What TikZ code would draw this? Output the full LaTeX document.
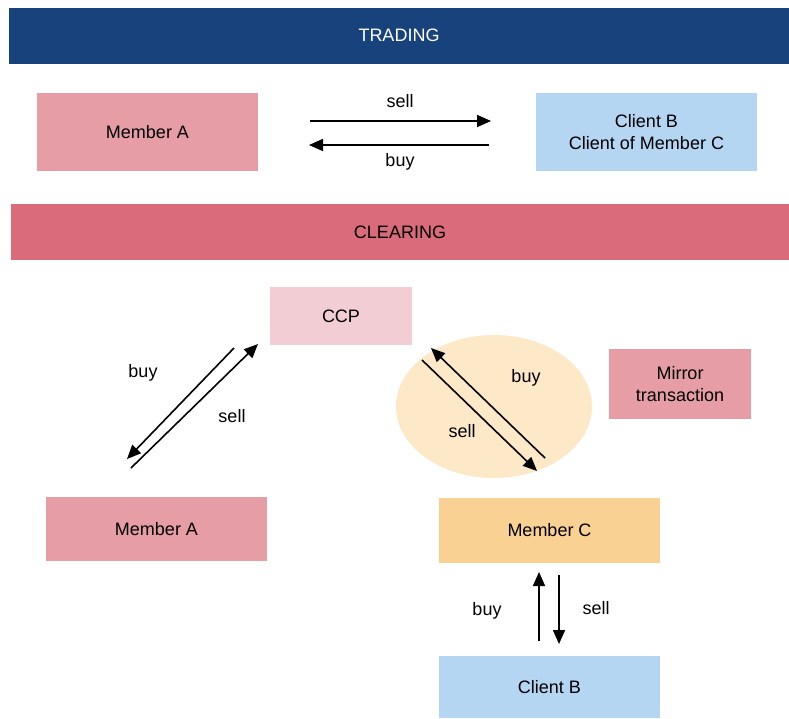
\documentclass[tikz,border=0pt]{standalone}
\usepackage{fontspec}
\setmainfont{Liberation Sans}
\usetikzlibrary{arrows.meta,shapes.geometric}
\definecolor{navy}{HTML}{17427C}
\definecolor{clearred}{HTML}{D96B7A}
\definecolor{memberpink}{HTML}{E69DA6}
\definecolor{ccppink}{HTML}{F2CDD3}
\definecolor{clientblue}{HTML}{B5D6F2}
\definecolor{memberorange}{HTML}{F9D193}
\definecolor{mirrorfill}{HTML}{FDE8C8}
\tikzset{
  every picture/.style={
    font=\fontsize{18}{22}\selectfont,
    line join=round,
  },
  flow/.style={-{Triangle[length=14pt,width=12pt]},line width=1.6pt},
  box/.style={inner sep=0pt,align=center,minimum width=221pt},
  bar/.style={inner sep=0pt,minimum height=56pt},
}
\begin{document}
\begin{tikzpicture}[x=1pt,y=-1pt]
\useasboundingbox (0,0) rectangle (789,718);
% trading
\node[bar,fill=navy,text=white,minimum width=780pt] (trading) at (399,35.5) {TRADING};
\node[box,fill=memberpink,minimum height=78pt] (topA) at (147.5,132) {Member A};
\node[box,fill=clientblue,minimum height=78pt] (topB) at (646.5,132) {Client B\\Client of Member C};
\coordinate (s1) at (310,121); \coordinate (s2) at (491,121);
\coordinate (b1) at (489,145); \coordinate (b2) at (309,145);
\draw[flow] (s1)--(s2);
\draw[flow] (b1)--(b2);
\node (tsell) at (400,101) {sell};
\node (tbuy) at (400,162) {buy};
% clearing
\node[bar,fill=clearred,minimum width=778pt] (clearing) at (400,232) {CLEARING};
\node[inner sep=0pt,fill=ccppink,minimum width=142pt,minimum height=58pt] (ccp) at (341,316) {CCP};
\node[ellipse,fill=mirrorfill,minimum width=196pt,minimum height=143pt,inner sep=0pt] (oval) at (494,406.5) {};
\node[inner sep=0pt,align=center,fill=memberpink,minimum width=142pt,minimum height=70pt] (mirror) at (680,384) {Mirror\\transaction};
\node[box,fill=memberpink,minimum height=64pt] (lowA) at (156.5,529) {Member A};
\node[box,fill=memberorange,minimum height=65pt] (memC) at (549.5,530.5) {Member C};
\node[box,fill=clientblue,minimum height=62pt] (lowB) at (549.5,687) {Client B};
% CCP <-> member A
\coordinate (a1) at (234,348); \coordinate (a2) at (127,459);
\coordinate (a3) at (131,468); \coordinate (a4) at (258,344);
\draw[flow] (a1)--(a2);
\draw[flow] (a3)--(a4);
\node (abuy) at (143,373) {buy};
\node (asell) at (232,416) {sell};
% mirror
\coordinate (m1) at (422,360); \coordinate (m2) at (537,471);
\coordinate (m3) at (545,458); \coordinate (m4) at (431,348);
\draw[flow] (m1)--(m2);
\draw[flow] (m3)--(m4);
\node (mbuy) at (526,378) {buy};
\node (msell) at (462,431) {sell};
% member C <-> client B
\coordinate (c1) at (539,641); \coordinate (c2) at (539,572);
\coordinate (c3) at (559,575); \coordinate (c4) at (559,644);
\draw[flow] (c1)--(c2);
\draw[flow] (c3)--(c4);
\node (cbuy) at (487,611) {buy};
\node (csell) at (596,608) {sell};
\end{tikzpicture}
\end{document}
